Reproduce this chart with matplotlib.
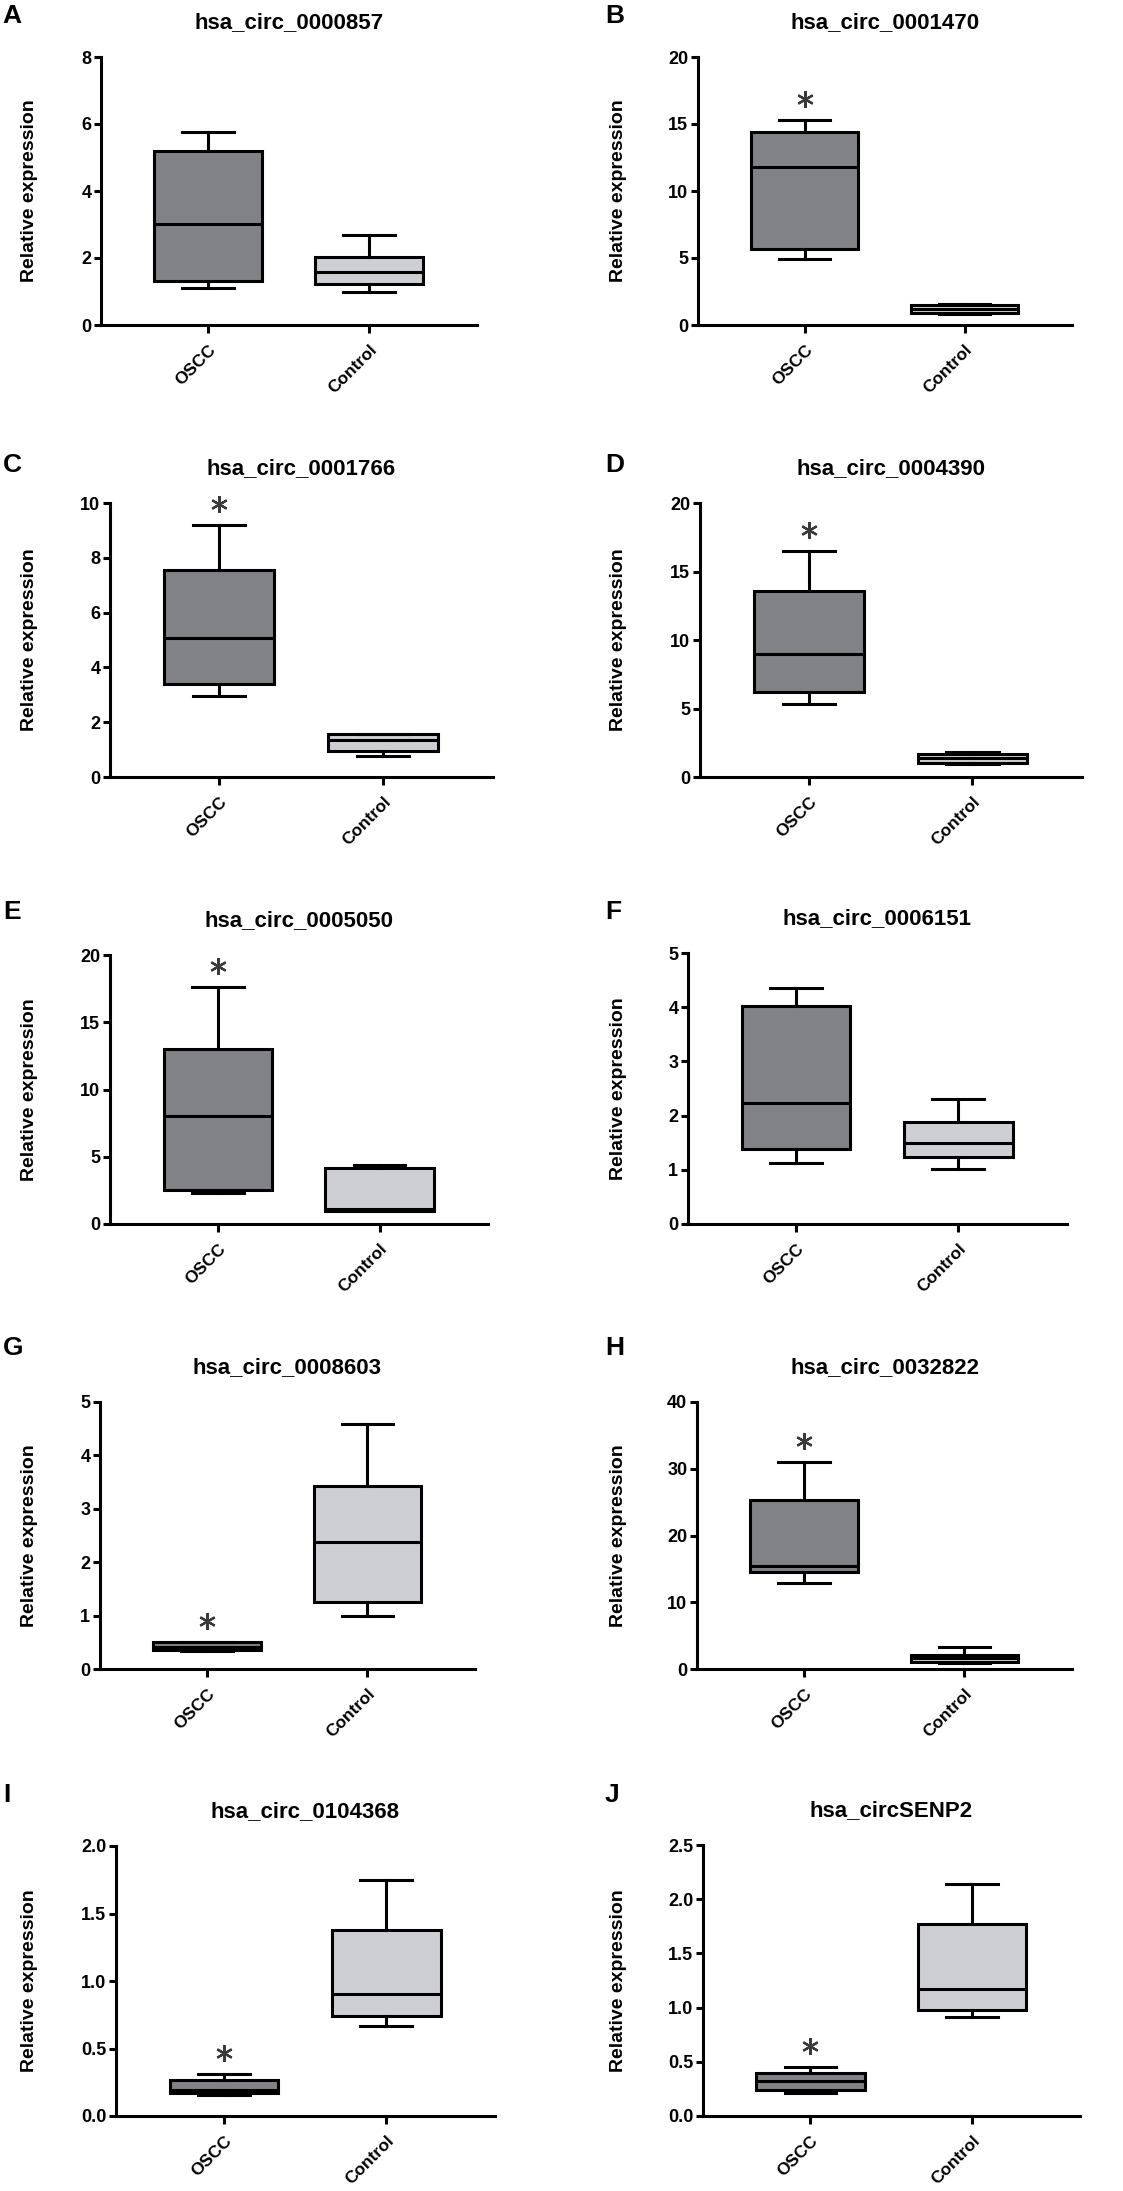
import matplotlib
matplotlib.use("Agg")
import matplotlib.pyplot as plt
import matplotlib.transforms as mtransforms

plt.rcParams['font.family'] = ['Liberation Sans', 'DejaVu Sans']
plt.rcParams['font.weight'] = 'bold'

W, H = 1123, 2191

letters = ['A', 'B', 'C', 'D', 'E', 'F', 'G', 'H', 'I', 'J']
titles = ['hsa_circ_0000857', 'hsa_circ_0001470', 'hsa_circ_0001766', 'hsa_circ_0004390',
          'hsa_circ_0005050', 'hsa_circ_0006151', 'hsa_circ_0008603', 'hsa_circ_0032822',
          'hsa_circ_0104368', 'hsa_circSENP2']
groups = ['OSCC', 'Control']

# whisker low, Q1, median, Q3, whisker high
oscc = [[1.11, 1.32, 3.01, 5.20, 5.75],
        [4.96, 5.65, 11.76, 14.37, 15.27],
        [2.94, 3.41, 5.09, 7.54, 9.18],
        [5.30, 6.20, 8.99, 13.56, 16.48],
        [2.30, 2.50, 8.00, 13.02, 17.60],
        [1.12, 1.38, 2.24, 4.02, 4.36],
        [0.33, 0.36, 0.42, 0.50, 0.51],
        [12.92, 14.56, 15.50, 25.29, 30.97],
        [0.158, 0.17, 0.195, 0.264, 0.309],
        [0.212, 0.243, 0.32, 0.40, 0.453]]
control = [[0.99, 1.21, 1.59, 2.02, 2.70],
           [0.85, 0.90, 1.20, 1.50, 1.60],
           [0.75, 0.94, 1.36, 1.57, 1.58],
           [0.97, 1.04, 1.36, 1.70, 1.82],
           [0.95, 1.00, 1.15, 4.16, 4.40],
           [1.01, 1.23, 1.50, 1.89, 2.30],
           [1.00, 1.26, 2.37, 3.43, 4.58],
           [0.85, 1.00, 1.60, 2.04, 3.34],
           [0.664, 0.738, 0.906, 1.375, 1.746],
           [0.914, 0.976, 1.167, 1.767, 2.14]]
significant = [False, True, True, True, True, False, True, True, True, True]

yticks = [[0, 2, 4, 6, 8], [0, 5, 10, 15, 20], [0, 2, 4, 6, 8, 10], [0, 5, 10, 15, 20],
          [0, 5, 10, 15, 20], [0, 1, 2, 3, 4, 5], [0, 1, 2, 3, 4, 5], [0, 10, 20, 30, 40],
          [0.0, 0.5, 1.0, 1.5, 2.0], [0.0, 0.5, 1.0, 1.5, 2.0, 2.5]]
ytick_labels = [['0', '2', '4', '6', '8'], ['0', '5', '10', '15', '20'],
                ['0', '2', '4', '6', '8', '10'], ['0', '5', '10', '15', '20'],
                ['0', '5', '10', '15', '20'], ['0', '1', '2', '3', '4', '5'],
                ['0', '1', '2', '3', '4', '5'], ['0', '10', '20', '30', '40'],
                ['0.0', '0.5', '1.0', '1.5', '2.0'], ['0.0', '0.5', '1.0', '1.5', '2.0', '2.5']]

# axes boxes in pixels: left, right, top, bottom
boxes = [(101, 477, 57, 325), (698, 1072, 57, 325),
         (110, 493, 503, 777), (700, 1082, 503, 777),
         (110, 488, 955, 1224), (688, 1067, 953, 1224),
         (100, 475, 1402, 1669), (697, 1072, 1402, 1669),
         (116, 495, 1846, 2116), (703, 1080, 1845, 2116)]
letter_pos = [(2, 16), (605, 16), (3, 465), (605, 465), (3, 912), (605, 912),
              (3, 1348), (605, 1348), (3, 1795), (605, 1795)]
ylabel_x = [38, 627]

fig = plt.figure(figsize=(W / 100, H / 100), dpi=100)

for i in range(10):
    l, r, t, b = boxes[i]
    ax = fig.add_axes([l / W, 1 - b / H, (r - l) / W, (b - t) / H])
    stats = []
    for s in (oscc[i], control[i]):
        stats.append(dict(whislo=s[0], q1=s[1], med=s[2], q3=s[3], whishi=s[4]))
    bp = ax.bxp(stats, positions=[1, 2], widths=0.67, capwidths=0.32, patch_artist=True,
                showfliers=False,
                boxprops=dict(linewidth=2.2, edgecolor='black'),
                medianprops=dict(color='black', linewidth=2.2),
                whiskerprops=dict(color='black', linewidth=2.2),
                capprops=dict(color='black', linewidth=2.2))
    bp['boxes'][0].set_facecolor('#808285')
    bp['boxes'][1].set_facecolor('#cdcfd2')

    ax.set_xlim(0.334, 2.67)
    ax.set_ylim(yticks[i][0], yticks[i][-1])
    ax.set_yticks(yticks[i])
    ax.set_yticklabels(ytick_labels[i], fontsize=13, fontweight='bold')
    ax.set_xticks([1, 2])
    ax.set_xticklabels(groups, fontsize=12.5, fontweight='bold', rotation=45,
                       ha='right', va='top', rotation_mode='anchor')
    for sp in ['top', 'right']:
        ax.spines[sp].set_visible(False)
    for sp in ['left', 'bottom']:
        ax.spines[sp].set_linewidth(2.2)
    ax.tick_params(axis='y', length=5, width=2.2, pad=2)
    ax.tick_params(axis='x', length=6, width=2.2, pad=6)

    ax.set_ylabel('Relative expression', fontsize=14, fontweight='bold')
    ax.yaxis.set_label_coords(ylabel_x[i % 2] / W, 0.5,
                              transform=mtransforms.blended_transform_factory(fig.transFigure, ax.transAxes))
    ax.set_title(titles[i], fontsize=16, fontweight='bold', pad=21)

    if significant[i]:
        tr = mtransforms.offset_copy(ax.transData, fig=fig, y=21, units='dots')
        ax.plot([1], [oscc[i][4]], transform=tr, marker=(6, 2, 0), markersize=12,
                markeredgewidth=1.6, color='#3a3a3a', linestyle='none', clip_on=False)

    lx, ly = letter_pos[i]
    fig.text(lx / W, 1 - ly / H, letters[i], fontsize=19, fontweight='bold',
             ha='left', va='center')

fig.savefig('out.png', dpi=100)
